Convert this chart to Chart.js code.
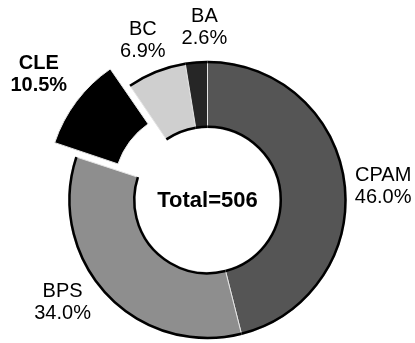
<!DOCTYPE html>
<html>
<head>
<meta charset="utf-8">
<script src="https://cdn.jsdelivr.net/npm/chart.js@4"></script>
<style>
  html, body { margin: 0; padding: 0; background: #fff; }
  #wrap { width: 415px; height: 343px; }
</style>
</head>
<body>
<div id="wrap"><canvas id="donut"></canvas></div>
<script>
const categories = ["CPAM", "BPS", "CLE", "BC", "BA"];
const counts = [233, 172, 53, 35, 13];
const total = 506;
const sliceColors = ["#555555", "#8e8e8e", "#000000", "#cfcfcf", "#262626"];
const exploded = [0, 0, 72, 0, 0];
const boldLabels = [false, false, true, false, false];

// small hand nudges so the labels sit where the original puts them
const labelNudge = [[2, 8], [-17, -17], [-9, -5], [0, 3], [11, 2]];

const ringOutline = {
  id: "ringOutline",
  afterDatasetsDraw(chart) {
    const ctx = chart.ctx;
    const arcs = chart.getDatasetMeta(0).data;
    ctx.save();
    ctx.strokeStyle = "#000";
    ctx.lineWidth = 2.5;
    arcs.forEach((arc, i) => {
      if (exploded[i]) return;
      ctx.beginPath();
      ctx.arc(arc.x, arc.y, arc.outerRadius - 1, arc.startAngle, arc.endAngle);
      ctx.stroke();
      ctx.beginPath();
      ctx.arc(arc.x, arc.y, arc.innerRadius + 1, arc.startAngle, arc.endAngle);
      ctx.stroke();
    });
    ctx.restore();
  },
};

const sliceLabels = {
  id: "sliceLabels",
  afterDraw(chart) {
    const ctx = chart.ctx;
    const arcs = chart.getDatasetMeta(0).data;
    ctx.save();
    ctx.fillStyle = "#000";
    ctx.textAlign = "center";
    ctx.textBaseline = "middle";
    arcs.forEach((arc, i) => {
      const mid = (arc.startAngle + arc.endAngle) / 2;
      const shift = exploded[i] ? exploded[i] / 4 : 0;
      const r = arc.outerRadius + 36 + (exploded[i] ? 7 : 0);
      const cx = arc.x + Math.cos(mid) * (r + shift) + labelNudge[i][0];
      const cy = arc.y + Math.sin(mid) * (r + shift) + labelNudge[i][1];
      ctx.font = (boldLabels[i] ? "bold " : "") + "20px 'Liberation Sans', Arial, sans-serif";
      const pct = ((counts[i] / total) * 100).toFixed(1) + "%";
      ctx.fillText(categories[i], cx, cy - 11);
      ctx.fillText(pct, cx, cy + 11);
    });
    const a0 = arcs[0];
    ctx.font = "bold 22px 'Liberation Sans', Arial, sans-serif";
    ctx.fillText("Total=" + total, a0.x, a0.y + 1);
    ctx.restore();
  },
};

const ctx = document.getElementById("donut").getContext("2d");
const donut = new Chart(ctx, {
  type: "doughnut",
  data: {
    labels: categories,
    datasets: [
      {
        data: counts,
        backgroundColor: sliceColors,
        borderColor: "#e4e4e4",
        borderWidth: 1,
        offset: exploded,
      },
    ],
  },
  options: {
    responsive: true,
    maintainAspectRatio: false,
    animation: false,
    radius: 139,
    cutout: "52%",
    layout: { padding: { top: 57, bottom: 0, left: 0, right: 0 } },
    plugins: {
      legend: { display: false },
      tooltip: { enabled: false },
    },
  },
  plugins: [ringOutline, sliceLabels],
});
</script>
</body>
</html>
